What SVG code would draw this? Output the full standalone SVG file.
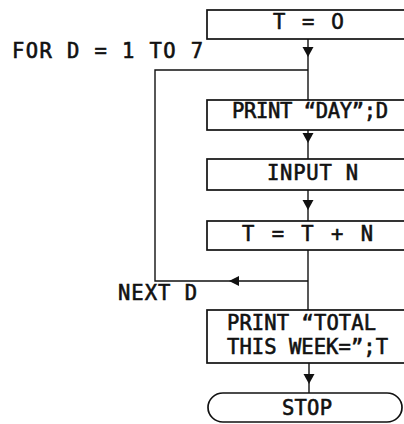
<svg xmlns="http://www.w3.org/2000/svg" width="404" height="424" viewBox="0 0 404 424">
<style>
.box{fill:#fff;stroke:#111;stroke-width:1.7}
.ln{fill:none;stroke:#111;stroke-width:1.4}
.t{font-family:"DejaVu Sans Mono","Liberation Mono",monospace;font-size:20.5px;fill:#111;stroke:#111;stroke-width:0.6}
.z{font-family:"DejaVu Sans",sans-serif}
</style>
<defs>
<polygon id="ad" points="-5.5,0 5.5,0 0,10" fill="#111"/>
<polygon id="al" points="0,0 10,-5 10,5" fill="#111"/>
</defs>
<rect width="404" height="424" fill="#fff"/>
<g id="connectors">
<path class="ln" d="M308,39 V100"/>
<use href="#ad" x="308" y="47"/>
<path class="ln" d="M308,130 V159"/>
<use href="#ad" x="308" y="133"/>
<path class="ln" d="M308,190 V221"/>
<use href="#ad" x="308" y="200"/>
<path class="ln" d="M308,250 V310"/>
<path class="ln" d="M308,281 H155 V70 H308"/>
<use href="#al" x="229" y="281"/>
<path class="ln" d="M309,363 V393"/>
<use href="#ad" x="309" y="374"/>
</g>
<g id="init">
<rect class="box" x="207" y="10" width="210" height="29"/>
<text class="t" x="273" y="29" textLength="71" lengthAdjust="spacing">T = <tspan class="z">0</tspan></text>
</g>
<g id="loop-start">
<text class="t" x="12" y="58" textLength="191" lengthAdjust="spacing">FOR D = 1 TO 7</text>
</g>
<g id="print-day">
<rect class="box" x="207" y="100" width="210" height="30"/>
<text class="t" x="232" y="118" textLength="156" lengthAdjust="spacing">PRINT “DAY”;D</text>
</g>
<g id="input">
<rect class="box" x="207" y="159" width="210" height="31"/>
<text class="t" x="267" y="180" textLength="91" lengthAdjust="spacing">INPUT N</text>
</g>
<g id="sum">
<rect class="box" x="207" y="221" width="210" height="29"/>
<text class="t" x="242" y="241" textLength="131" lengthAdjust="spacing">T = T + N</text>
</g>
<g id="loop-end">
<text class="t" x="118" y="300" textLength="79" lengthAdjust="spacing">NEXT D</text>
</g>
<g id="print-total">
<rect class="box" x="207" y="310" width="210" height="53"/>
<text class="t" x="227" y="330" textLength="149" lengthAdjust="spacing">PRINT “TOTAL</text>
<text class="t" x="227" y="354" textLength="161" lengthAdjust="spacing">THIS WEEK=”;T</text>
</g>
<g id="stop">
<rect class="box" x="208" y="393" width="194" height="29" rx="15" ry="14.5"/>
<text class="t" x="282" y="415" textLength="50" lengthAdjust="spacing">STOP</text>
</g>
</svg>
